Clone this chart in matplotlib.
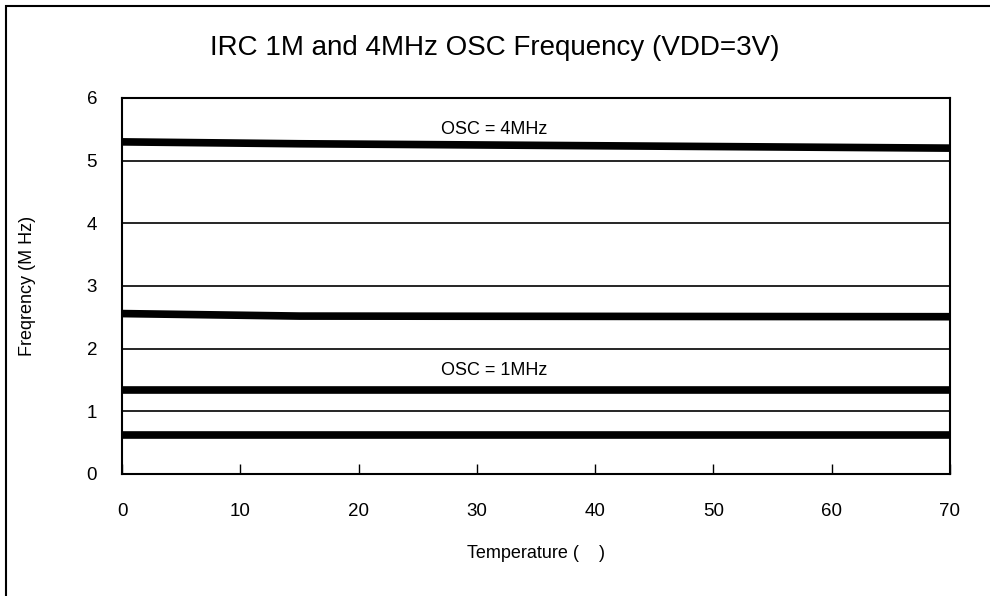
import matplotlib
matplotlib.use("Agg")
import matplotlib.pyplot as plt
from matplotlib.patches import Rectangle

plt.rcParams['font.family'] = ['Liberation Sans', 'DejaVu Sans']

# temperature points (C) and frequency readings (MHz)
temps = [0, 15, 70]
osc4_high = [5.30, 5.27, 5.20]
osc4_low = [2.56, 2.52, 2.51]
osc1_high = [1.34, 1.34, 1.34]
osc1_low = [0.63, 0.63, 0.63]

xticks = [0, 10, 20, 30, 40, 50, 60, 70]
yticks = [0, 1, 2, 3, 4, 5, 6]

fig = plt.figure(figsize=(9.9, 5.96), dpi=100)
ax = fig.add_axes([122 / 990, 1 - 474 / 596, 828 / 990, 376 / 596])

for y in yticks[1:-1]:
    ax.axhline(y, color='black', lw=1.2, zorder=1)

for series in [osc4_high, osc4_low, osc1_high, osc1_low]:
    ax.plot(temps, series, color='black', lw=5.5, solid_capstyle='butt', zorder=3)

ax.text(31.5, 5.49, 'OSC = 4MHz', ha='center', va='center', fontsize=13)
ax.text(31.5, 1.65, 'OSC = 1MHz', ha='center', va='center', fontsize=13)

ax.set_xlim(0, 70)
ax.set_ylim(0, 6)
ax.set_xticks(xticks)
ax.set_yticks(yticks)
ax.tick_params(axis='x', direction='in', length=7, width=1, pad=21, labelsize=13.5)
ax.tick_params(axis='y', length=0, pad=18, labelsize=13.5)
for s in ax.spines.values():
    s.set_linewidth(1.5)

ax.set_xlabel('Temperature (    )', fontsize=13, labelpad=18)
ax.set_ylabel('Freqrency (M Hz)', fontsize=13, labelpad=36)
fig.text(495 / 990, 1 - 48 / 596, 'IRC 1M and 4MHz OSC Frequency (VDD=3V)',
         ha='center', va='center', fontsize=20)

fig.patches.append(Rectangle((6 / 990, -0.01), 1.0, 1 - 6 / 596 + 0.01, transform=fig.transFigure,
                             fill=False, edgecolor='black', lw=1.5))

fig.savefig('out.png', dpi=100)
